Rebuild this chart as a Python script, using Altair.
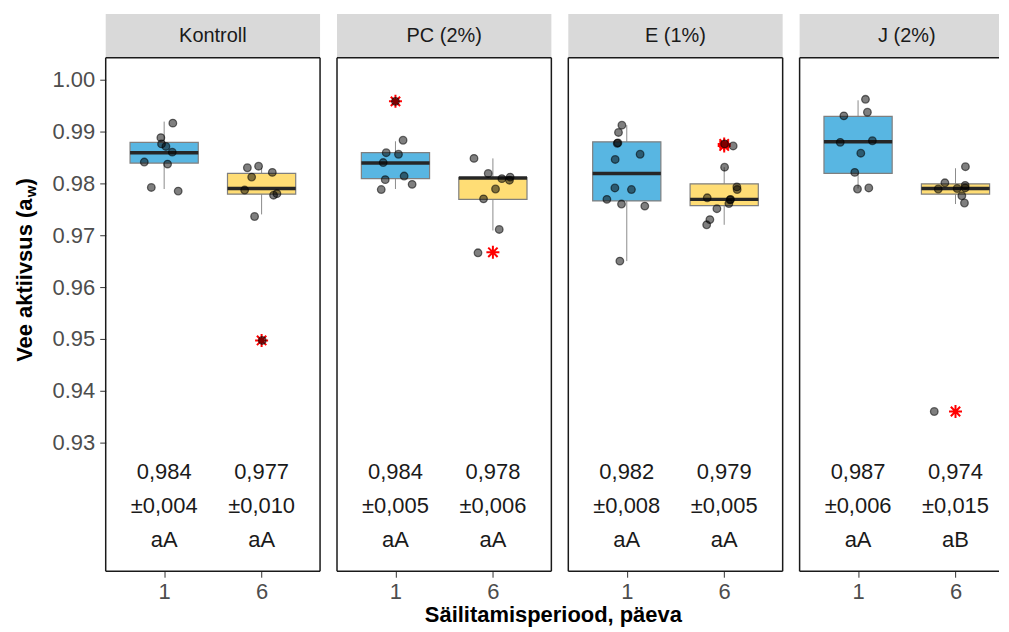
import altair as alt
import pandas as pd

# ---------------- data ----------------
GROUPS = ["Kontroll", "PC (2%)", "E (1%)", "J (2%)"]
DAY_LABELS = ["1", "6"]
Y_TICKS = [0.93, 0.94, 0.95, 0.96, 0.97, 0.98, 0.99, 1.00]
Y_DOMAIN = [0.9052, 1.0042]

# individual measurements (jittered points) and their horizontal jitter
KONTROLL_D1 = [0.9916, 0.9888, 0.9876, 0.9871, 0.9860, 0.9841, 0.9837, 0.9792, 0.9785]
KONTROLL_D1_JIT = [0.089, -0.034, -0.027, 0.018, 0.083, -0.204, 0.035, -0.132, 0.144]
KONTROLL_D6 = [0.9830, 0.9833, 0.9821, 0.9812, 0.9787, 0.9777, 0.9780, 0.9736, 0.9497]
KONTROLL_D6_JIT = [-0.146, -0.031, 0.110, -0.102, -0.174, 0.123, 0.157, -0.072, 0.007]
PC_D1 = [0.9883, 0.9859, 0.9856, 0.9840, 0.9807, 0.9814, 0.9798, 0.9788, 0.9958]
PC_D1_JIT = [0.078, -0.095, 0.031, -0.126, -0.105, 0.089, 0.171, -0.146, 0.0]
PC_D6 = [0.9848, 0.9819, 0.9809, 0.9812, 0.9806, 0.9789, 0.9770, 0.9711, 0.9666]
PC_D6_JIT = [-0.194, -0.048, 0.092, 0.177, 0.170, 0.027, -0.096, 0.065, -0.153]
E_D1 = [0.9912, 0.9898, 0.9877, 0.9878, 0.9846, 0.9856, 0.9791, 0.9788, 0.9769, 0.9760, 0.9756, 0.9650]
E_D1_JIT = [-0.050, -0.085, -0.098, -0.091, -0.119, 0.137, -0.122, 0.048, -0.204, -0.054, 0.185, -0.071]
E_D6 = [0.9876, 0.9872, 0.9831, 0.9793, 0.9788, 0.9772, 0.9769, 0.9768, 0.9761, 0.9751, 0.9730, 0.9720]
E_D6_JIT = [0.004, 0.092, 0.004, 0.130, 0.133, -0.174, 0.065, 0.060, 0.048, -0.075, -0.147, -0.180]
J_D1 = [0.9962, 0.9937, 0.9930, 0.9879, 0.9882, 0.9858, 0.9821, 0.9789, 0.9791]
J_D1_JIT = [0.076, 0.096, -0.146, -0.183, 0.147, 0.028, -0.034, -0.006, 0.110]
J_D6 = [0.9832, 0.9801, 0.9789, 0.9790, 0.9796, 0.9791, 0.9776, 0.9762, 0.9360]
J_D6_JIT = [0.102, -0.109, -0.177, 0.017, 0.099, 0.099, 0.065, 0.092, -0.218]

POINTS = [
    [(KONTROLL_D1, KONTROLL_D1_JIT), (KONTROLL_D6, KONTROLL_D6_JIT)],
    [(PC_D1, PC_D1_JIT), (PC_D6, PC_D6_JIT)],
    [(E_D1, E_D1_JIT), (E_D6, E_D6_JIT)],
    [(J_D1, J_D1_JIT), (J_D6, J_D6_JIT)],
]

# box statistics, order: Kontroll 1, Kontroll 6, PC 1, PC 6, E 1, E 6, J 1, J 6
Q1 = [0.9839, 0.9779, 0.9809, 0.9769, 0.9766, 0.9757, 0.9819, 0.9779]
MED = [0.9859, 0.9790, 0.9839, 0.9810, 0.9819, 0.9769, 0.9880, 0.9790]
Q3 = [0.9879, 0.9819, 0.9859, 0.9811, 0.9880, 0.9799, 0.9929, 0.9799]
WLO = [0.9789, 0.9740, 0.9789, 0.9709, 0.9650, 0.9720, 0.9790, 0.9760]
WHI = [0.9919, 0.9830, 0.9881, 0.9848, 0.9912, 0.9831, 0.9960, 0.9829]
OUTLIERS = [[], [0.9497], [0.9958], [0.9667], [], [0.9876, 0.9872], [], [0.9360]]

MEANS = ["0,984", "0,977", "0,984", "0,978", "0,982", "0,979", "0,987", "0,974"]
SDS = ["±0,004", "±0,010", "±0,005", "±0,006", "±0,008", "±0,005", "±0,006", "±0,015"]
LETTERS = ["aA", "aA", "aA", "aA", "aA", "aA", "aA", "aB"]
ANNOT_Y = 0.9244  # position of the first annotation line

BOX_COLORS = ["#58B6E2", "#FFDD75"]

# ---------------- layout / style ----------------
FONT = "Liberation Sans"
W, H = 215, 515
W_LAST = 200            # last panel is cut by the picture's right edge
STRIP_H = 44
HALF_BOX = 0.35
BORDER = "#1A1A1A"
STAR = "M0,-1L0,1M-1,0L1,0M-0.72,-0.72L0.72,0.72M-0.72,0.72L0.72,-0.72"

x_axis = alt.Axis(
    values=[1, 2],
    labelExpr=f"datum.value == 1 ? '{DAY_LABELS[0]}' : '{DAY_LABELS[1]}'",
    title=None, grid=False, domain=False, tickSize=6, tickColor="#333333",
    labelFontSize=22, labelColor="#4D4D4D", labelPadding=4, labelFont=FONT,
)
y_axis = alt.Axis(
    values=Y_TICKS, format=".2f", title=None, grid=False, domain=False,
    tickSize=6, tickColor="#333333", labelFontSize=22, labelColor="#4D4D4D",
    labelPadding=5, labelFont=FONT,
)


def panel(i):
    last = i == 3
    pw = W_LAST if last else W
    xs = alt.Scale(domain=[0.4, 0.4 + 2.2 * pw / W], nice=False, zero=False)
    ys = alt.Scale(domain=Y_DOMAIN, nice=False, zero=False)
    ya = y_axis if i == 0 else None

    def X(f):
        return alt.X(f, scale=xs, axis=x_axis)

    def Y(f):
        return alt.Y(f, scale=ys, axis=ya)

    rows = []
    for d in range(2):
        k = 2 * i + d
        rows.append(dict(pos=d + 1, day=DAY_LABELS[d], q1=Q1[k], med=MED[k], q3=Q3[k],
                         wlo=WLO[k], whi=WHI[k],
                         label="\n".join([MEANS[k], SDS[k], LETTERS[k]]), ty=ANNOT_Y))
    box_df = pd.DataFrame(rows)

    prow = []
    for d in range(2):
        vals, jit = POINTS[i][d]
        for v, j in zip(vals, jit):
            prow.append(dict(pos=d + 1, v=v, jit=j))
    pts_df = pd.DataFrame(prow)

    orow = []
    for d in range(2):
        for v in OUTLIERS[2 * i + d]:
            orow.append(dict(pos=d + 1, v=v))
    out_df = pd.DataFrame(orow if orow else [dict(pos=1, v=None)])

    whisk = alt.Chart(box_df).mark_rule(color="#8C8C8C", strokeWidth=1).encode(
        x=X("pos:Q"), y=Y("wlo:Q"), y2="whi:Q")
    boxes = alt.Chart(box_df).transform_calculate(
        xl=f"datum.pos - {HALF_BOX}", xr=f"datum.pos + {HALF_BOX}"
    ).mark_rect(stroke="#7F7F7F", strokeWidth=1.2).encode(
        x=X("xl:Q"), x2="xr:Q", y=Y("q1:Q"), y2="q3:Q",
        fill=alt.Fill("day:N", scale=alt.Scale(domain=DAY_LABELS, range=BOX_COLORS), legend=None))
    meds = alt.Chart(box_df).transform_calculate(
        xl=f"datum.pos - {HALF_BOX}", xr=f"datum.pos + {HALF_BOX}"
    ).mark_rule(color="#262626", strokeWidth=3.5).encode(
        x=X("xl:Q"), x2="xr:Q", y=Y("med:Q"))
    stars = alt.Chart(out_df).transform_filter("datum.v != null").mark_point(
        shape=STAR, filled=False, color="#FF0000", strokeWidth=2, size=170, opacity=1
    ).encode(x=X("pos:Q"), y=Y("v:Q"))
    dots = alt.Chart(pts_df).transform_calculate(px="datum.pos + datum.jit").mark_circle(
        size=58, fill="#000000", fillOpacity=0.5, stroke="#000000", strokeOpacity=0.55,
        strokeWidth=1.3, opacity=1
    ).encode(x=X("px:Q"), y=Y("v:Q"))
    texts = alt.Chart(box_df).mark_text(
        lineBreak="\n", lineHeight=34.5, fontSize=22, font=FONT, color="#1A1A1A",
        baseline="middle", align="center"
    ).encode(x=X("pos:Q"), y=Y("ty:Q"), text="label:N")

    strip_df = pd.DataFrame([dict(label=GROUPS[i])])
    strip = alt.Chart(strip_df).mark_rect(fill="#D9D9D9").encode(
        x=alt.value(0), x2=alt.value(pw), y=alt.value(-STRIP_H), y2=alt.value(0))
    strip_txt = alt.Chart(strip_df).mark_text(
        fontSize=20, font=FONT, color="#1A1A1A", baseline="middle", align="center"
    ).encode(x=alt.value(W / 2), y=alt.value(-STRIP_H / 2), text="label:N")

    # panel frame (the last panel's right side lies outside the picture)
    frame_df = pd.DataFrame([dict(k=0)])
    left = alt.Chart(frame_df).mark_rule(color=BORDER, strokeWidth=1.5).encode(
        x=alt.value(0), y=alt.value(0), y2=alt.value(H))
    top = alt.Chart(frame_df).mark_rule(color=BORDER, strokeWidth=1.5).encode(
        x=alt.value(0), x2=alt.value(pw), y=alt.value(0))
    bottom = alt.Chart(frame_df).mark_rule(color=BORDER, strokeWidth=1.5).encode(
        x=alt.value(0), x2=alt.value(pw), y=alt.value(H))
    frame = [left, top, bottom]
    if not last:
        right = alt.Chart(frame_df).mark_rule(color=BORDER, strokeWidth=1.5).encode(
            x=alt.value(pw), y=alt.value(0), y2=alt.value(H))
        frame.append(right)

    layers = [strip, strip_txt, whisk, boxes, meds, stars, dots, texts] + frame

    if i == 0:
        tdf = pd.DataFrame([dict(a="Vee aktiivsus (a", b="w", c=")")])
        t1 = alt.Chart(tdf).mark_text(angle=270, fontSize=22, fontWeight="bold", font=FONT,
                                      align="left", baseline="alphabetic", color="#000000").encode(
            x=alt.value(-74), y=alt.value(305), text="a:N")
        t2 = alt.Chart(tdf).mark_text(angle=270, fontSize=15, fontWeight="bold", font=FONT,
                                      align="left", baseline="alphabetic", color="#000000").encode(
            x=alt.value(-69.5), y=alt.value(139.9), text="b:N")
        t3 = alt.Chart(tdf).mark_text(angle=270, fontSize=22, fontWeight="bold", font=FONT,
                                      align="left", baseline="alphabetic", color="#000000").encode(
            x=alt.value(-74), y=alt.value(128.2), text="c:N")
        layers += [t1, t2, t3]
    if i == 2:
        xdf = pd.DataFrame([dict(t="Säilitamisperiood, päeva")])
        xt = alt.Chart(xdf).mark_text(fontSize=22, fontWeight="bold", font=FONT,
                                      align="center", baseline="alphabetic", color="#000000").encode(
            x=alt.value(-15), y=alt.value(566), text="t:N")
        layers.append(xt)

    return alt.layer(*layers).properties(width=pw, height=H)


chart = alt.hconcat(*[panel(i) for i in range(4)], spacing=17, bounds="flush").properties(
    padding={"left": 5, "top": 4, "right": 0, "bottom": 0}
).configure(font=FONT, view=alt.ViewConfig(stroke="transparent"))

chart.save("out.html", embed_options={"renderer": "svg", "actions": False})
